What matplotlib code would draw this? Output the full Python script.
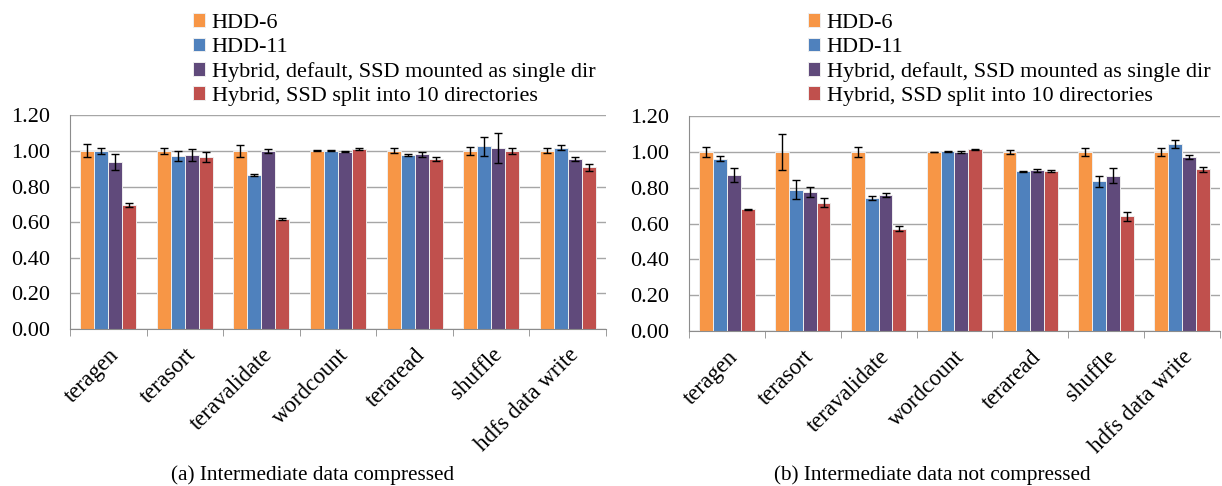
import numpy as np
import matplotlib.pyplot as plt

plt.rcParams['font.family'] = ['Liberation Serif', 'DejaVu Serif']

categories = ['teragen', 'terasort', 'teravalidate', 'wordcount',
              'teraread', 'shuffle', 'hdfs data write']
series = ['HDD-6', 'HDD-11', 'Hybrid, default, SSD mounted as single dir',
          'Hybrid, SSD split into 10 directories']
colors = ['#F79646', '#4F81BD', '#604A7B', '#C0504D']

# (a) intermediate data compressed
comp_hdd6 = [1.00, 1.00, 1.00, 1.00, 1.00, 1.00, 1.00]
comp_hdd11 = [1.00, 0.972, 0.866, 1.00, 0.976, 1.026, 1.019]
comp_hyb = [0.939, 0.976, 1.00, 0.995, 0.981, 1.017, 0.955]
comp_split = [0.697, 0.965, 0.617, 1.011, 0.955, 1.00, 0.909]
comp_hdd6_err = [0.037, 0.015, 0.035, 0.003, 0.014, 0.023, 0.014]
comp_hdd11_err = [0.015, 0.030, 0.007, 0.003, 0.004, 0.052, 0.016]
comp_hyb_err = [0.046, 0.035, 0.010, 0.003, 0.015, 0.083, 0.013]
comp_split_err = [0.010, 0.026, 0.007, 0.004, 0.011, 0.018, 0.020]

# (b) intermediate data not compressed
nocomp_hdd6 = [1.00, 1.00, 1.00, 1.00, 1.00, 1.00, 1.00]
nocomp_hdd11 = [0.963, 0.790, 0.743, 1.004, 0.892, 0.836, 1.045]
nocomp_hyb = [0.872, 0.775, 0.760, 1.00, 0.898, 0.868, 0.972]
nocomp_split = [0.680, 0.717, 0.571, 1.015, 0.892, 0.640, 0.903]
nocomp_hdd6_err = [0.030, 0.100, 0.030, 0.002, 0.010, 0.023, 0.024]
nocomp_hdd11_err = [0.015, 0.053, 0.013, 0.004, 0.002, 0.030, 0.022]
nocomp_hyb_err = [0.037, 0.028, 0.013, 0.003, 0.009, 0.040, 0.012]
nocomp_split_err = [0.004, 0.024, 0.014, 0.004, 0.005, 0.025, 0.013]

fig = plt.figure(figsize=(12.22, 4.86), dpi=100)


def draw_panel(ax, vals, errs):
    x = np.arange(len(categories))
    w = 0.1825
    for i in range(4):
        ax.bar(x + (i - 1.5) * w, vals[i], w, color=colors[i],
               edgecolor='#eeeeee', linewidth=0.7, label=series[i], zorder=2)
        ax.errorbar(x + (i - 1.5) * w, vals[i], yerr=errs[i], fmt='none',
                    ecolor='black', elinewidth=1, capsize=3, capthick=1, zorder=3)
    ax.set_xlim(-0.5, len(categories) - 0.5)
    ax.set_ylim(0, 1.2005)
    ax.set_yticks(np.arange(0, 1.21, 0.2))
    ax.set_yticklabels(['%.2f' % v for v in np.arange(0, 1.21, 0.2)], fontsize=16)
    ax.yaxis.grid(True, color='#a6a6a6', linewidth=1)
    ax.set_axisbelow(True)
    ax.set_xticks(x)
    ax.set_xticklabels(categories, rotation=45, ha='right', va='top',
                       rotation_mode='anchor', fontsize=16.5)
    ax.set_xticks(np.arange(-0.5, len(categories)), minor=True)
    ax.tick_params(axis='x', which='major', length=0, pad=11)
    ax.tick_params(axis='x', which='minor', length=5, color='#8c8c8c', direction='out')
    ax.tick_params(axis='y', length=0, pad=14)
    for s in ['top', 'right']:
        ax.spines[s].set_visible(False)
    for s in ['left', 'bottom']:
        ax.spines[s].set_color('#8c8c8c')


ax1 = fig.add_axes([0.0573, 0.323, 0.4386, 0.440])
draw_panel(ax1, [comp_hdd6, comp_hdd11, comp_hyb, comp_split],
           [comp_hdd6_err, comp_hdd11_err, comp_hyb_err, comp_split_err])
ax2 = fig.add_axes([0.5638, 0.319, 0.4345, 0.442])
draw_panel(ax2, [nocomp_hdd6, nocomp_hdd11, nocomp_hyb, nocomp_split],
           [nocomp_hdd6_err, nocomp_hdd11_err, nocomp_hyb_err, nocomp_split_err])

for ax, lx in [(ax1, 0.147), (ax2, 0.650)]:
    h, l = ax.get_legend_handles_labels()
    fig.legend(h, l, loc='upper left', bbox_to_anchor=(lx, 1.0), frameon=False,
               fontsize=16, handlelength=0.55, handleheight=0.55, handletextpad=0.3,
               labelspacing=0.21, borderpad=0.1)

fig.text(0.256, 0.012, '(a) Intermediate data compressed', ha='center', fontsize=15.3)
fig.text(0.763, 0.012, '(b) Intermediate data not compressed', ha='center', fontsize=15.3)

fig.savefig('out.png', dpi=100)
